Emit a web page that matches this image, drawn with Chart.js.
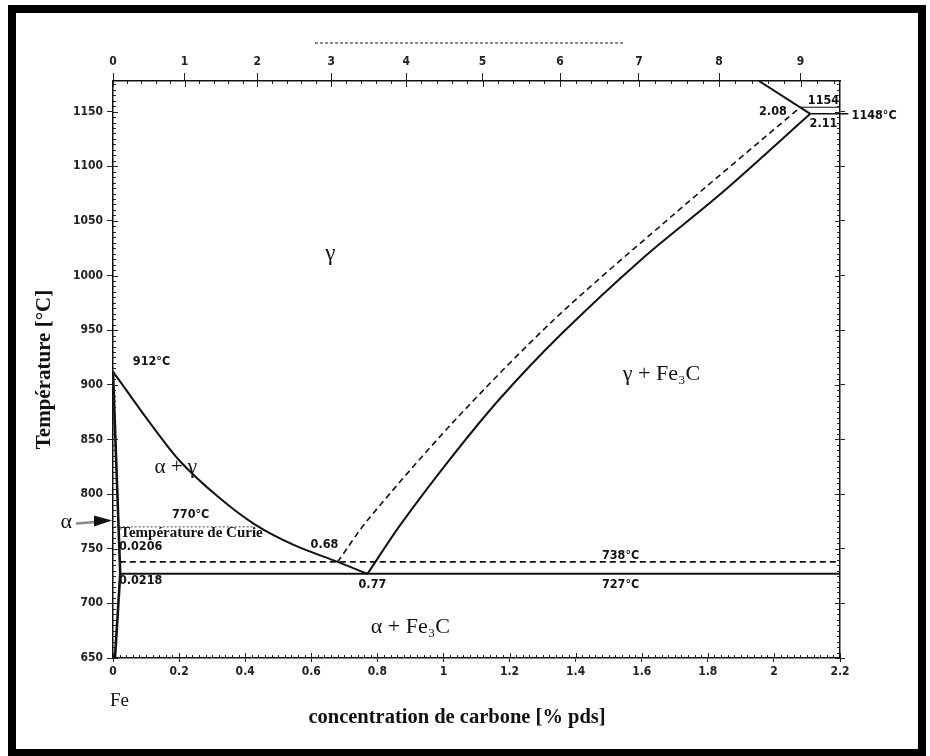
<!DOCTYPE html>
<html>
<head>
<meta charset="utf-8">
<title>Diagramme Fe-C</title>
<script src="https://cdn.jsdelivr.net/npm/chart.js@4/dist/chart.umd.min.js"></script>
<style>
  body { margin: 0; background: #fff; }
  canvas { display: block; }
</style>
</head>
<body>
<canvas id="diagram" width="930" height="756"></canvas>
<script>
// axes: bottom = % pds C, top = % at. C, left = temperature
const wtTicks = [0, 0.2, 0.4, 0.6, 0.8, 1, 1.2, 1.4, 1.6, 1.8, 2, 2.2];
const tempTicks = [650, 700, 750, 800, 850, 900, 950, 1000, 1050, 1100, 1150];
const atPct = [0, 1, 2, 3, 4, 5, 6, 7, 8, 9];

// A3 : alpha+gamma / gamma
const a3C = [0, 0.05, 0.10, 0.20, 0.32, 0.43, 0.55, 0.68, 0.77];
const a3T = [912, 891, 870, 831, 797, 772, 753, 738, 727];
// alpha / alpha+gamma
const alphaC = [0, 0.0206, 0.0218, 0.006];
const alphaT = [912, 738, 727, 650];
// Acm, cementite (solid)
const acmC = [0.77, 0.87, 1.02, 1.17, 1.355, 1.60, 1.84, 2.11];
const acmT = [727, 772, 832, 887, 946, 1015, 1075, 1148];
// Acm, graphite (dashed)
const acmGrC = [0.68, 0.77, 1.036, 1.336, 1.682, 2.08];
const acmGrT = [738, 776, 868, 960, 1052, 1154];
// liquidus
const liqC = [1.955, 2.11];
const liqT = [1178, 1148];
// isotherms
const eutectoidC = [0.0218, 2.2], eutectoidT = 727;
const eutectoidGrC = [0.0206, 2.2], eutectoidGrT = 738;
const curieC = [0.005, 0.43], curieT = 770;
const eutecticC = [2.11, 2.225], eutecticT = 1148;
const eutecticGrC = [2.08, 2.2], eutecticGrT = 1154;

const T_MIN = 650, T_MAX = 1178, C_MAX = 2.2;

function atToWt(a) {
  return 1200 * a / (12 * a + 55.85 * (100 - a));
}
function pts(xs, ys) {
  return xs.map((x, i) => ({ x: x, y: Array.isArray(ys) ? ys[i] : ys }));
}
function line(xs, ys, extra) {
  return Object.assign({
    data: pts(xs, ys),
    showLine: true,
    pointRadius: 0,
    borderColor: '#111',
    borderWidth: 2,
    fill: false,
    tension: 0.3
  }, extra || {});
}

const tickFont = { family: '"DejaVu Sans Condensed", "DejaVu Sans", sans-serif', size: 12, weight: 'bold' };
const serif = '"Liberation Serif", "DejaVu Serif", serif';
const small = 'bold 12.5px "DejaVu Sans Condensed", "DejaVu Sans", sans-serif';

const labels = [
  { t: 'γ', x: 0.658, y: 1020, font: '23px ' + serif, align: 'center' },
  { t: 'γ + Fe₃C', x: 1.66, y: 910, font: '22px ' + serif, align: 'center' },
  { t: 'α + γ', x: 0.19, y: 824, font: '21px ' + serif, align: 'center' },
  { t: 'α + Fe₃C', x: 0.90, y: 678, font: '22px ' + serif, align: 'center' },
  { t: '912°C', x: 0.06, y: 921, font: small, align: 'left' },
  { t: '770°C', x: 0.235, y: 781, font: small, align: 'center' },
  { t: 'Température de Curie', x: 0.022, y: 764, font: 'bold 15px ' + serif, align: 'left' },
  { t: '0.0206', x: 0.018, y: 752, font: small, align: 'left' },
  { t: '0.0218', x: 0.018, y: 721, font: small, align: 'left' },
  { t: '0.68', x: 0.64, y: 754, font: small, align: 'center' },
  { t: '0.77', x: 0.785, y: 717, font: small, align: 'center' },
  { t: '738°C', x: 1.536, y: 744, font: small, align: 'center' },
  { t: '727°C', x: 1.536, y: 717, font: small, align: 'center' },
  { t: '2.08', x: 1.997, y: 1150, font: small, align: 'center' },
  { t: '1154', x: 2.15, y: 1159.5, font: small, align: 'center' },
  { t: '2.11', x: 2.15, y: 1139, font: small, align: 'center' },
  { t: '1148°C', x: 2.235, y: 1146, font: small, align: 'left' }
];

const decor = {
  id: 'decor',
  beforeDraw(chart) {
    const c = chart.ctx;
    c.save();
    c.fillStyle = '#fff';
    c.fillRect(0, 0, chart.width, chart.height);
    c.strokeStyle = '#000';
    c.lineWidth = 8;
    c.strokeRect(12, 9, 910, 744);
    c.restore();
  },
  afterDraw(chart) {
    const c = chart.ctx;
    const sx = chart.scales.x, sy = chart.scales.y;
    const a = chart.chartArea;
    c.save();
    c.strokeStyle = '#222';
    c.lineWidth = 1;
    c.beginPath();
    // minor ticks on temperature axes
    for (let t = T_MIN; t <= T_MAX; t += 5) {
      const y = Math.round(sy.getPixelForValue(t)) + 0.5;
      const len = t % 50 === 0 ? 5 : 3;
      c.moveTo(a.left, y); c.lineTo(a.left + len, y);
      c.moveTo(a.right, y); c.lineTo(a.right - len, y);
    }
    // minor ticks, % pds
    for (let i = 0; i <= 110; i++) {
      const x = Math.round(sx.getPixelForValue(i * 0.02)) + 0.5;
      c.moveTo(x, a.bottom); c.lineTo(x, a.bottom - (i % 10 === 0 ? 5 : 3));
    }
    // minor ticks, % at.
    for (let i = 0; i <= 47; i++) {
      const x = Math.round(sx.getPixelForValue(atToWt(i * 0.2))) + 0.5;
      c.moveTo(x, a.top); c.lineTo(x, a.top + (i % 5 === 0 ? 6 : 3));
    }
    c.stroke();

    // faded line above the top axis
    c.strokeStyle = '#8a8a8a';
    c.lineWidth = 2;
    c.setLineDash([3, 2]);
    c.beginPath();
    c.moveTo(315, 43); c.lineTo(625, 43);
    c.stroke();
    c.setLineDash([]);

    // annotations
    c.fillStyle = '#111';
    c.textBaseline = 'middle';
    labels.forEach(l => {
      c.font = l.font;
      c.textAlign = l.align;
      c.fillText(l.t, sx.getPixelForValue(l.x), sy.getPixelForValue(l.y));
    });

    // alpha arrow
    const tipX = sx.getPixelForValue(0.0) - 1, tipY = sy.getPixelForValue(775);
    c.font = '22px ' + serif;
    c.textAlign = 'right';
    c.fillText('α', 72, tipY + 1);
    c.lineWidth = 2.5;
    c.beginPath();
    c.moveTo(76, tipY + 2); c.lineTo(tipX - 10, tipY);
    c.stroke();
    c.beginPath();
    c.moveTo(tipX, tipY - 1);
    c.lineTo(tipX - 18, tipY - 6);
    c.lineTo(tipX - 18, tipY + 5);
    c.closePath();
    c.fill();

    // x title and Fe
    c.font = 'bold 20.5px ' + serif;
    c.textAlign = 'center';
    c.fillText('concentration de carbone [% pds]', 457, 718);
    c.font = '19px ' + serif;
    c.textAlign = 'left';
    c.fillText('Fe', 110, 701);
    c.restore();
  }
};

const ctx = document.getElementById('diagram').getContext('2d');
const chart = new Chart(ctx, {
  type: 'scatter',
  data: {
    datasets: [
      line(alphaC, alphaT, { borderWidth: 2.6, tension: 0 }),
      line(a3C, a3T),
      line(acmC, acmT),
      line(acmGrC, acmGrT, { borderDash: [6, 4], borderWidth: 1.6 }),
      line(liqC, liqT, { tension: 0 }),
      line(eutectoidC, eutectoidT, { tension: 0 }),
      line(eutectoidGrC, eutectoidGrT, { borderDash: [6, 4], borderWidth: 1.6, tension: 0 }),
      line(curieC, curieT, { borderDash: [2, 2], borderWidth: 1, borderColor: '#444', tension: 0 }),
      line(eutecticC, eutecticT, { borderWidth: 1.6, tension: 0, clip: false }),
      line(eutecticGrC, eutecticGrT, { borderWidth: 1.2, tension: 0 })
    ]
  },
  options: {
    responsive: false,
    animation: false,
    events: [],
    layout: { padding: 0 },
    plugins: { legend: { display: false }, tooltip: { enabled: false } },
    scales: {
      x: {
        type: 'linear', position: 'bottom', min: 0, max: C_MAX,
        afterBuildTicks: s => { s.ticks = wtTicks.map(v => ({ value: v })); },
        afterFit: s => { s.height = 756 - 658; },
        ticks: { font: tickFont, color: '#222', padding: 3, maxRotation: 0,
                 callback: v => String(Number(v.toFixed(1))) },
        grid: { drawOnChartArea: false, tickLength: 4, color: '#222' },
        border: { color: '#111', width: 1.5 }
      },
      x2: {
        type: 'linear', position: 'top', min: 0, max: C_MAX,
        afterBuildTicks: s => { s.ticks = atPct.map(a => ({ value: atToWt(a) })); },
        afterFit: s => { s.height = 81; },
        ticks: { font: tickFont, color: '#222', padding: 4, maxRotation: 0,
                 callback: (v, i) => String(atPct[i]) },
        grid: { drawOnChartArea: false, tickLength: 8, color: '#222' },
        border: { color: '#111', width: 1.5 }
      },
      y: {
        type: 'linear', position: 'left', min: T_MIN, max: T_MAX,
        afterBuildTicks: s => { s.ticks = tempTicks.map(v => ({ value: v })); },
        afterFit: s => { s.width = 113; },
        ticks: { font: tickFont, color: '#222', padding: 4, callback: v => String(v) },
        grid: { drawOnChartArea: false, tickLength: 6, color: '#222' },
        border: { color: '#111', width: 1.5 },
        title: { display: true, text: 'Température [°C]', color: '#111',
                 font: { family: serif, size: 21, weight: 'bold' }, padding: { top: 32 } }
      },
      y2: {
        type: 'linear', position: 'right', min: T_MIN, max: T_MAX,
        afterBuildTicks: s => { s.ticks = tempTicks.map(v => ({ value: v })); },
        afterFit: s => { s.width = 90; },
        ticks: { display: false },
        grid: { drawOnChartArea: false, tickLength: 5, color: '#222' },
        border: { color: '#111', width: 1.5 }
      }
    }
  },
  plugins: [decor]
});
</script>
</body>
</html>
